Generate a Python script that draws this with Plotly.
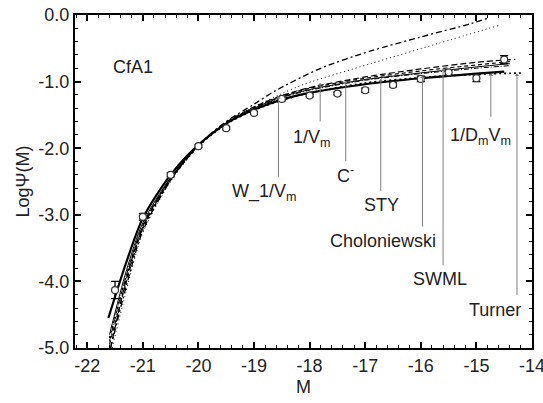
import plotly.graph_objects as go

# ---- data ----
obs_M = [-21.5, -21.0, -20.5, -20.0, -19.5, -19.0, -18.5, -18.0, -17.5, -17.0, -16.5, -16.0, -15.5, -15.0, -14.5]
obs_logpsi = [-4.13, -3.03, -2.40, -1.97, -1.70, -1.47, -1.26, -1.21, -1.18, -1.13, -1.05, -0.96, -0.86, -0.95, -0.67]
obs_err = [0.13, 0.05, 0.03, 0.02, 0.02, 0.02, 0.03, 0.02, 0.02, 0.03, 0.03, 0.04, 0.04, 0.05, 0.06]

# fitted luminosity functions
thick_M = [-21.62, -21.3, -21.0, -20.5, -20.0, -19.5, -19.0, -18.5, -18.0, -17.0, -16.0, -15.0, -14.5]
thick_y = [-4.55, -3.72, -3.05, -2.40, -1.95, -1.63, -1.42, -1.27, -1.17, -1.04, -0.95, -0.88, -0.85]

thin_M = [-21.6, -21.3, -21.0, -20.5, -20.0, -19.5, -19.0, -18.5, -18.0, -17.0, -16.0, -15.0, -14.4]
thin_y = [-4.80, -3.85, -3.12, -2.44, -1.96, -1.62, -1.40, -1.23, -1.12, -0.97, -0.87, -0.78, -0.73]

dashA_M = [-21.58, -21.3, -21.0, -20.5, -20.0, -19.5, -19.0, -18.5, -18.0, -17.0, -16.0, -15.0, -14.3]
dashA_y = [-5.00, -3.98, -3.17, -2.46, -1.96, -1.61, -1.38, -1.21, -1.09, -0.93, -0.81, -0.71, -0.665]

dashB_M = [-21.6, -21.3, -21.0, -20.5, -20.0, -19.5, -19.0, -18.5, -18.0, -17.0, -16.0, -15.0, -14.4]
dashB_y = [-4.95, -4.02, -3.20, -2.47, -1.97, -1.62, -1.39, -1.22, -1.10, -0.95, -0.84, -0.75, -0.70]

dashdotC_M = [-21.6, -21.3, -21.0, -20.5, -20.0, -19.5, -19.0, -18.5, -18.0, -17.0, -16.0, -15.0, -14.4]
dashdotC_y = [-4.90, -3.92, -3.16, -2.45, -1.96, -1.63, -1.41, -1.24, -1.13, -0.98, -0.88, -0.80, -0.76]

turner_M = [-21.6, -21.3, -21.0, -20.5, -20.0, -19.5, -19.0, -18.5, -18.0, -17.0, -16.0, -15.0, -14.4, -14.2]
turner_y = [-4.85, -3.93, -3.20, -2.48, -1.97, -1.64, -1.43, -1.28, -1.17, -1.02, -0.94, -0.89, -0.875, -0.87]

steepA_M = [-21.58, -21.3, -21.0, -20.5, -20.0, -19.5, -19.0, -18.6, -17.8, -16.9, -16.0, -15.1, -14.8]
steepA_y = [-5.00, -4.08, -3.24, -2.48, -1.95, -1.60, -1.34, -1.13, -0.80, -0.54, -0.33, -0.13, -0.05]

steepB_M = [-21.55, -21.3, -21.0, -20.5, -20.0, -19.5, -19.0, -18.5, -18.1, -16.9, -15.7, -14.57]
steepB_y = [-5.00, -4.15, -3.27, -2.50, -1.96, -1.62, -1.38, -1.18, -1.04, -0.73, -0.43, -0.15]

# labels with leader lines: (text, line M, top, bottom, label M, label y)
lab_text = ["W_1/V<sub>m</sub>", "1/V<sub>m</sub>", "C<sup>-</sup>", "STY", "Choloniewski",
            "SWML", "1/D<sub>m</sub>V<sub>m</sub>", "Turner"]
lab_lineM = [-18.56, -17.81, -17.35, -16.72, -15.97, -15.60, -14.74, -14.27]
lab_top = [-1.22, -1.02, -0.99, -0.96, -0.91, -0.80, -0.88, -0.88]
lab_bot = [-2.45, -1.62, -2.22, -2.67, -3.20, -3.78, -1.55, -4.23]
lab_M = [-18.81, -17.96, -17.35, -16.70, -16.68, -15.65, -14.92, -14.67]
lab_y = [-2.66, -1.85, -2.40, -2.85, -3.39, -3.96, -1.83, -4.43]

x_ticks = [-22, -21, -20, -19, -18, -17, -16, -15, -14]
x_tick_labels = ["-22", "-21", "-20", "-19", "-18", "-17", "-16", "-15", "-14"]
y_ticks = [0, -1, -2, -3, -4, -5]
y_tick_labels = ["0.0", "-1.0", "-2.0", "-3.0", "-4.0", "-5.0"]

FONT = "Liberation Sans, Arial, sans-serif"
FS = 18

fig = go.Figure()

curves = [
    (steepA_M, steepA_y, dict(color="black", width=1.3, dash="6px,3px,2px,3px")),
    (steepB_M, steepB_y, dict(color="black", width=1.0, dash="1px,3px")),
    (dashA_M, dashA_y, dict(color="black", width=1.2, dash="6px,3px")),
    (dashB_M, dashB_y, dict(color="black", width=1.2, dash="4px,3px")),
    (dashdotC_M, dashdotC_y, dict(color="black", width=1.0, dash="5px,2px,1px,2px")),
    (thin_M, thin_y, dict(color="black", width=1.0)),
    (turner_M, turner_y, dict(color="black", width=1.6, dash="2px,3px")),
    (thick_M, thick_y, dict(color="black", width=2.2)),
]
for mx, my, ln in curves:
    fig.add_trace(go.Scatter(x=mx, y=my, mode="lines", line=dict(shape="spline", smoothing=0.8, **ln),
                             showlegend=False, hoverinfo="skip"))

fig.add_trace(go.Scatter(
    x=obs_M, y=obs_logpsi, mode="markers",
    marker=dict(symbol="circle", size=7, color="white", line=dict(color="#333", width=1.2)),
    error_y=dict(type="data", array=obs_err, visible=True, color="black", thickness=1.3, width=4),
    showlegend=False))

for t, lm, tp, bt, xm, ym in zip(lab_text, lab_lineM, lab_top, lab_bot, lab_M, lab_y):
    fig.add_annotation(x=lm, y=tp, ax=lm, ay=bt, axref="x", ayref="y", xref="x", yref="y",
                       text="", showarrow=True, arrowhead=1, arrowsize=0.8, arrowwidth=1,
                       arrowcolor="#7f7f7f")
    fig.add_annotation(x=xm, y=ym, xref="x", yref="y", text=t, showarrow=False,
                       font=dict(family=FONT, size=FS, color="#222"))

fig.add_annotation(x=-21.17, y=-0.78, xref="x", yref="y", text="CfA1", showarrow=False,
                   font=dict(family=FONT, size=FS, color="#222"))

axis_common = dict(showline=True, linewidth=2, linecolor="black", mirror="ticks",
                   ticks="inside", ticklen=6, tickwidth=1.5, tickcolor="black",
                   showgrid=False, zeroline=False, automargin=False,
                   ticklabeloverflow="allow",
                   tickfont=dict(family=FONT, size=FS, color="#222"))

fig.update_xaxes(range=[-22.22, -14], tickvals=x_ticks, ticktext=x_tick_labels,
                 minor=dict(dtick=0.2, ticks="inside", ticklen=3, tickwidth=1, tickcolor="black"),
                 title=dict(text="M", font=dict(family=FONT, size=FS, color="#222"), standoff=6),
                 **axis_common)
fig.update_yaxes(range=[-5, 0], tickvals=y_ticks, ticktext=y_tick_labels,
                 minor=dict(dtick=0.2, ticks="inside", ticklen=3, tickwidth=1, tickcolor="black"),
                 title=dict(text="LogΨ(M)", font=dict(family=FONT, size=FS, color="#222"), standoff=4),
                 **axis_common)

fig.update_layout(width=543, height=403, margin=dict(l=75, r=11, t=15, b=55),
                  plot_bgcolor="white", paper_bgcolor="white")

fig.write_html("out.html", config={"displayModeBar": False},
               post_script="document.body.style.margin='0';document.body.style.overflow='hidden';")
